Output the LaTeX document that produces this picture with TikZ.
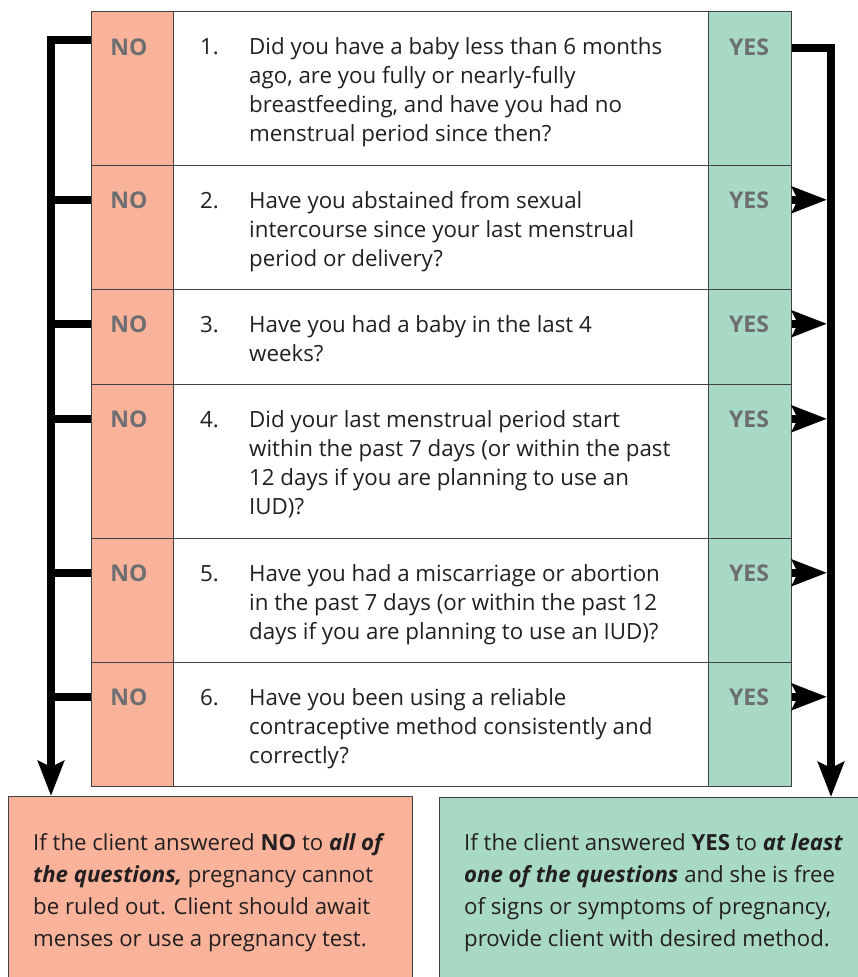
\documentclass[tikz,border=0pt]{standalone}
\usepackage{fontspec}
\setmainfont{Open Sans}
\usetikzlibrary{arrows.meta}

\definecolor{nocolor}{RGB}{249,179,154}
\definecolor{yescolor}{RGB}{167,217,196}
\definecolor{labelgray}{RGB}{109,110,113}
\definecolor{edgegray}{RGB}{65,64,66}
\definecolor{textblack}{RGB}{35,31,32}

\tikzset{
  cell/.style={draw=edgegray, line width=1.3pt, inner sep=0pt, anchor=north west},
  answer/.style={anchor=base, text=labelgray, font=\fontsize{23}{26}\selectfont\bfseries},
  question/.style={anchor=base west, inner sep=0pt, text=textblack, font=\fontsize{22.3}{29}\selectfont},
  result/.style={anchor=base west, inner sep=0pt, text=textblack, font=\fontsize{22.2}{32}\selectfont},
  bus/.style={line width=8pt, line join=miter},
  tip/.style={-{Stealth[length=35pt, width=26pt, inset=6pt]}}
}

\begin{document}
\begin{tikzpicture}[x=1pt, y=-1pt]
  \useasboundingbox (0, 0) rectangle (858, 977);
  \clip (0, 0) rectangle (858, 977);

  % table cells
  \node [cell, fill=nocolor, minimum width=82pt, minimum height=154pt] (No_cell1) at (91, 11) {};
  \node [cell, fill=white, minimum width=535pt, minimum height=154pt] (Q_cell1) at (173, 11) {};
  \node [cell, fill=yescolor, minimum width=83pt, minimum height=154pt] (Yes_cell1) at (708, 11) {};

  \node [cell, fill=nocolor, minimum width=82pt, minimum height=124pt] (No_cell2) at (91, 165) {};
  \node [cell, fill=white, minimum width=535pt, minimum height=124pt] (Q_cell2) at (173, 165) {};
  \node [cell, fill=yescolor, minimum width=83pt, minimum height=124pt] (Yes_cell2) at (708, 165) {};

  \node [cell, fill=nocolor, minimum width=82pt, minimum height=95pt] (No_cell3) at (91, 289) {};
  \node [cell, fill=white, minimum width=535pt, minimum height=95pt] (Q_cell3) at (173, 289) {};
  \node [cell, fill=yescolor, minimum width=83pt, minimum height=95pt] (Yes_cell3) at (708, 289) {};

  \node [cell, fill=nocolor, minimum width=82pt, minimum height=154pt] (No_cell4) at (91, 384) {};
  \node [cell, fill=white, minimum width=535pt, minimum height=154pt] (Q_cell4) at (173, 384) {};
  \node [cell, fill=yescolor, minimum width=83pt, minimum height=154pt] (Yes_cell4) at (708, 384) {};

  \node [cell, fill=nocolor, minimum width=82pt, minimum height=124pt] (No_cell5) at (91, 538) {};
  \node [cell, fill=white, minimum width=535pt, minimum height=124pt] (Q_cell5) at (173, 538) {};
  \node [cell, fill=yescolor, minimum width=83pt, minimum height=124pt] (Yes_cell5) at (708, 538) {};

  \node [cell, fill=nocolor, minimum width=82pt, minimum height=124pt] (No_cell6) at (91, 662) {};
  \node [cell, fill=white, minimum width=535pt, minimum height=124pt] (Q_cell6) at (173, 662) {};
  \node [cell, fill=yescolor, minimum width=83pt, minimum height=124pt] (Yes_cell6) at (708, 662) {};

  % answers
  \node [answer] (No_label1) at (129, 55) {NO};
  \node [answer] (No_label2) at (129, 208) {NO};
  \node [answer] (No_label3) at (129, 332) {NO};
  \node [answer] (No_label4) at (129, 427) {NO};
  \node [answer] (No_label5) at (129, 581) {NO};
  \node [answer] (No_label6) at (129, 705) {NO};

  \node [answer] (Yes_label1) at (749, 55) {YES};
  \node [answer] (Yes_label2) at (749, 208) {YES};
  \node [answer] (Yes_label3) at (749, 332) {YES};
  \node [answer] (Yes_label4) at (749, 427) {YES};
  \node [answer] (Yes_label5) at (749, 581) {YES};
  \node [answer] (Yes_label6) at (749, 705) {YES};

  % questions
  \node [question] (Num1) at (200, 54) {1.};
  \node [question] (Question1) at (249, 54) {\parbox[t]{455pt}{\raggedright
    Did you have a baby less than 6 months\\ ago, are you fully or nearly-fully\\
    breastfeeding, and have you had no\\ menstrual period since then?}};
  \node [question] (Num2) at (200, 208) {2.};
  \node [question] (Question2) at (249, 208) {\parbox[t]{455pt}{\raggedright
    Have you abstained from sexual\\ intercourse since your last menstrual\\
    period or delivery?}};
  \node [question] (Num3) at (200, 332) {3.};
  \node [question] (Question3) at (249, 332) {\parbox[t]{455pt}{\raggedright
    Have you had a baby in the last 4\\ weeks?}};
  \node [question] (Num4) at (200, 427) {4.};
  \node [question] (Question4) at (249, 427) {\parbox[t]{455pt}{\raggedright
    Did your last menstrual period start\\ within the past 7 days (or within the past\\
    12 days if you are planning to use an\\ IUD)?}};
  \node [question] (Num5) at (200, 581) {5.};
  \node [question] (Question5) at (249, 581) {\parbox[t]{455pt}{\raggedright
    Have you had a miscarriage or abortion\\ in the past 7 days (or within the past 12\\
    days if you are planning to use an IUD)?}};
  \node [question] (Num6) at (200, 705) {6.};
  \node [question] (Question6) at (249, 705) {\parbox[t]{455pt}{\raggedright
    Have you been using a reliable\\ contraceptive method consistently and\\
    correctly?}};

  % outcome boxes
  \node [cell, fill=nocolor, minimum width=404pt, minimum height=220pt] (No_box) at (8, 796) {};
  \node [cell, fill=yescolor, minimum width=440pt, minimum height=220pt] (Yes_box) at (439, 797) {};
  \node [result] (No_text) at (33, 850) {\parbox[t]{380pt}{\raggedright
    If the client answered \textbf{NO} to \textbf{\textit{all of}}\\
    \textbf{\textit{the questions,}} pregnancy cannot\\
    be ruled out. Client should await\\ menses or use a pregnancy test.}};
  \node [result] (Yes_text) at (464, 850) {\parbox[t]{385pt}{\raggedright
    If the client answered \textbf{YES} to \textbf{\textit{at least}}\\
    \textbf{\textit{one of the questions}} and she is free\\
    of signs or symptoms of pregnancy,\\ provide client with desired method.}};

  % connectors
  \coordinate (Left_top) at (51, 40);
  \coordinate (Right_top) at (831, 48);

  \draw [bus, tip] (No_cell1.west |- Left_top) -- (Left_top) -- (Left_top |- No_box.north);
  \draw [bus] (No_cell2.west |- No_label2) -- (Left_top |- No_label2);
  \draw [bus] (No_cell3.west |- No_label3) -- (Left_top |- No_label3);
  \draw [bus] (No_cell4.west |- No_label4) -- (Left_top |- No_label4);
  \draw [bus] (No_cell5.west |- No_label5) -- (Left_top |- No_label5);
  \draw [bus] (No_cell6.west |- No_label6) -- (Left_top |- No_label6);

  \draw [bus, tip] (Yes_cell1.east |- Right_top) -- (Right_top) -- (Right_top |- Yes_box.north);
  \draw [bus, tip, shorten >=4pt] (Yes_cell2.east |- Yes_label2) -- (Right_top |- Yes_label2);
  \draw [bus, tip, shorten >=4pt] (Yes_cell3.east |- Yes_label3) -- (Right_top |- Yes_label3);
  \draw [bus, tip, shorten >=4pt] (Yes_cell4.east |- Yes_label4) -- (Right_top |- Yes_label4);
  \draw [bus, tip, shorten >=4pt] (Yes_cell5.east |- Yes_label5) -- (Right_top |- Yes_label5);
  \draw [bus, tip, shorten >=4pt] (Yes_cell6.east |- Yes_label6) -- (Right_top |- Yes_label6);
\end{tikzpicture}
\end{document}
